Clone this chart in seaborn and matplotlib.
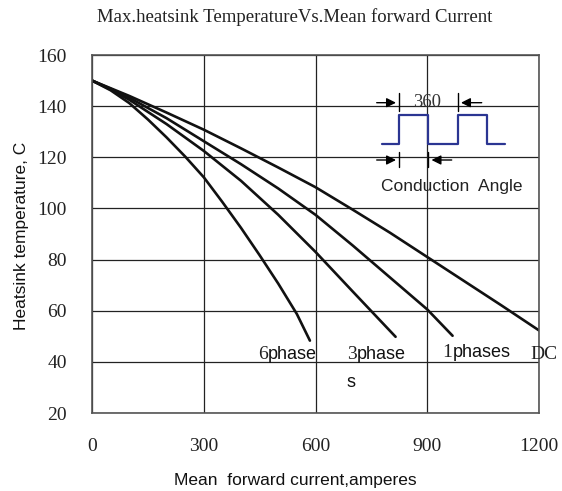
import matplotlib
matplotlib.use("Agg")
import matplotlib.pyplot as plt
import seaborn as sns
import pandas as pd

# ---- data ----
dc_x = [0, 100, 200, 300, 400, 500, 600, 700, 800, 900, 1000, 1100, 1200]
dc_y = [150, 144, 137.5, 130.8, 123.5, 116, 108.3, 99.5, 90.5, 81, 71.5, 62, 52.3]
p1_x = [0, 50, 100, 200, 300, 400, 500, 600, 700, 800, 900, 968]
p1_y = [150, 146.8, 143.3, 135.3, 126.3, 117.3, 107.8, 97.5, 85.5, 73, 60.5, 50.2]
p3_x = [0, 50, 100, 200, 300, 400, 500, 600, 700, 815]
p3_y = [150, 146.5, 142.5, 133, 122.5, 110.8, 97.5, 83, 67.5, 49.8]
p6_x = [0, 50, 100, 150, 200, 250, 300, 350, 400, 450, 500, 550, 585]
p6_y = [150, 146.2, 141.2, 134.8, 127.8, 120.3, 112.2, 102.5, 92.4, 81.7, 70.6, 58.7, 48.3]
x_ticks = [0, 300, 600, 900, 1200]
y_ticks = [20, 40, 60, 80, 100, 120, 140, 160]

frames = []
for name, xs, ys in [("DC", dc_x, dc_y), ("1phases", p1_x, p1_y),
                     ("3phases", p3_x, p3_y), ("6phase", p6_x, p6_y)]:
    frames.append(pd.DataFrame({"current": xs, "temp": ys, "series": name}))
df = pd.concat(frames, ignore_index=True)

sns.set_style("white")
plt.rcParams['font.family'] = ['Liberation Sans', 'DejaVu Sans']

W, H = 562, 491
fig = plt.figure(figsize=(W / 100, H / 100), dpi=100)
ax = fig.add_axes([92 / W, 1 - 413 / H, (539 - 92) / W, (413 - 55) / H])

sns.lineplot(data=df, x="current", y="temp", units="series", estimator=None,
             color="#111111", lw=1.9, ax=ax, legend=False, sort=False)

ax.set_xlim(0, 1200)
ax.set_ylim(20, 160)
ax.set_xticks(x_ticks)
ax.set_yticks(y_ticks)
ax.grid(True, color="#222222", lw=0.9)
ax.set_axisbelow(True)
for s in ax.spines.values():
    s.set_color("#555555")
    s.set_linewidth(1.2)
ax.tick_params(length=0, labelsize=14, labelcolor="#222222")
ax.tick_params(axis="x", pad=18)
ax.tick_params(axis="y", pad=18)
for lab in ax.get_xticklabels() + ax.get_yticklabels():
    lab.set_family("Liberation Serif")
ax.set_xlabel("")
ax.set_ylabel("")

fig.text(294.5 / W, 1 - 17 / H, "Max.heatsink TemperatureVs.Mean forward Current",
         family="Liberation Serif", fontsize=13.5, ha="center", va="center",
         color="#222222")
fig.text(295 / W, 1 - 480 / H, "Mean  forward current,amperes", fontsize=12.5,
         ha="center", va="center", color="#111111")
fig.text(22 / W, 1 - 236 / H, "Heatsink temperature, C", fontsize=12.5,
         ha="center", va="center", rotation=90, color="#111111")

# curve labels
lab_kw = dict(fontsize=13, va="center", color="#111111")
ser_kw = dict(fontsize=14, va="center", color="#222222", family="Liberation Serif")
ax.text(472, 42.7, "6", ha="right", **ser_kw)
ax.text(472, 42.7, "phase", ha="left", **lab_kw)
ax.text(711, 42.7, "3", ha="right", **ser_kw)
ax.text(711, 42.7, "phase", ha="left", **lab_kw)
ax.text(682, 32, "s", ha="left", **lab_kw)
ax.text(968, 43.5, "1", ha="right", **ser_kw)
ax.text(968, 43.5, "phases", ha="left", **lab_kw)
ax.text(1176, 42.7, "DC", ha="left", **ser_kw)

# inset: conduction angle sketch
ix0, ix1, iy0, iy1 = 368, 520, 76, 203
iax = fig.add_axes([ix0 / W, 1 - iy1 / H, (ix1 - ix0) / W, (iy1 - iy0) / H])
iax.set_xlim(0, 1)
iax.set_ylim(0, 1)
iax.set_facecolor("white")
iax.axis("off")
iax.patch.set_visible(True)


def u(px):
    return (px - ix0) / (ix1 - ix0)


def v(py):
    return (iy1 - py) / (iy1 - iy0)


lo, hi = v(144), v(115)
xs = [381.7, 399, 399, 428, 428, 458, 458, 487, 487, 505]
ys = [lo, lo, hi, hi, lo, lo, hi, hi, lo, lo]
iax.plot([u(p) for p in xs], ys, color="#2b3592", lw=1.6)

ak = dict(arrowstyle="-|>", color="black", lw=1.0, mutation_scale=14,
          shrinkA=0, shrinkB=0)
ty, by = v(102.7), v(160)
iax.annotate("", xy=(u(396), ty), xytext=(u(376.7), ty), arrowprops=ak)
iax.plot([u(399), u(399)], [v(93), v(111)], color="black", lw=1.0)
iax.plot([u(457.7), u(457.7)], [v(93), v(111)], color="black", lw=1.0)
iax.annotate("", xy=(u(461), ty), xytext=(u(481.7), ty), arrowprops=ak)
iax.text(u(427.5), ty, "360", family="Liberation Serif", fontsize=13.5,
         ha="center", va="center", color="#333333")

iax.annotate("", xy=(u(396), by), xytext=(u(376.7), by), arrowprops=ak)
iax.plot([u(399), u(399)], [v(151.7), v(167.3)], color="black", lw=1.0)
iax.plot([u(428.3), u(428.3)], [v(151.7), v(167.3)], color="black", lw=1.0)
iax.annotate("", xy=(u(431.5), by), xytext=(u(451.7), by), arrowprops=ak)
iax.text(u(452), v(186), "Conduction  Angle", fontsize=12.5, ha="center",
         va="center", color="#222222")

fig.savefig("out.png", dpi=100)
